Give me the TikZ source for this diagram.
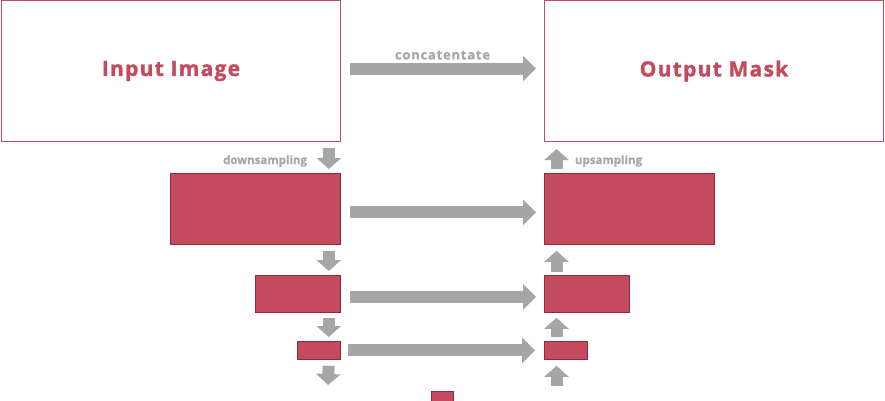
\documentclass[tikz,border=0pt]{standalone}
\usepackage{fontspec}
\setmainfont{Open Sans}
\newfontfamily\headfont{Open Sans}[BoldFeatures={FakeBold=1.5,LetterSpace=6}]
\newfontfamily\notefont{Open Sans}[BoldFeatures={FakeBold=1}]
\usetikzlibrary{arrows.meta,positioning}

\definecolor{maskred}{RGB}{196,75,94}
\definecolor{maskdark}{RGB}{145,40,60}
\definecolor{flowgray}{RGB}{166,166,166}
\definecolor{notegray}{RGB}{172,166,168}

\begin{document}
\begin{tikzpicture}[x=1pt,y=-1pt,
  imgbox/.style={draw=maskred, line width=1pt, fill=white, minimum width=339pt,
    minimum height=141pt, inner sep=0pt, anchor=north west, text=maskred,
    font=\headfont\fontsize{21}{24}\selectfont\bfseries},
  featbox/.style={draw=maskdark, line width=0.8pt, fill=maskred, inner sep=0pt,
    anchor=north west},
  hflow/.style={draw=flowgray, line width=12pt, shorten <=9pt, shorten >=8pt,
    -{Triangle[length=13pt,width=25pt]}},
  vflow/.style={draw=flowgray, line width=12pt, shorten <=6pt, shorten >=4pt,
    -{Triangle[length=11pt,width=24pt]}},
  note/.style={text=notegray, inner sep=0pt, outer sep=0pt,
    font=\notefont\fontsize{11.5}{13}\selectfont\bfseries}]
  \useasboundingbox (0,0) rectangle (885,400);

  % image and mask
  \node[imgbox] (in) at (1,0) {Input Image};
  \node[imgbox] (out) at (544,0) {Output Mask};

  % encoder
  \node[featbox, minimum width=170pt, minimum height=71pt] (d1) at (170,173) {};
  \node[featbox, minimum width=85pt, minimum height=37pt] (d2) at (255,275) {};
  \node[featbox, minimum width=43pt, minimum height=18pt] (d3) at (297,341) {};
  % decoder
  \node[featbox, minimum width=170pt, minimum height=71pt] (u1) at (544,173) {};
  \node[featbox, minimum width=85pt, minimum height=37pt] (u2) at (544,275) {};
  \node[featbox, minimum width=43pt, minimum height=18pt] (u3) at (544,341) {};
  % bottleneck
  \node[featbox, minimum width=22pt, minimum height=18pt] (mid) at (431,391) {};

  \coordinate (downend) at (328,385);
  \coordinate (upstart) at (556.5,386);

  % skip connections
  \draw[hflow] ([yshift=2.5pt]in.east) -- node[note, midway, above=9pt,
    font=\headfont\fontsize{13}{15}\selectfont\bfseries] {concatentate} ([yshift=2.5pt]out.west);
  \draw[hflow] ([yshift=-3.5pt]d1.east) -- ([yshift=-3.5pt]u1.west);
  \draw[hflow] ([yshift=-3pt]d2.east) -- ([yshift=-3pt]u2.west);
  \draw[hflow, shorten <=7pt, shorten >=9pt] (d3.east) -- (u3.west);

  % down
  \draw[vflow] ([xshift=-12pt]in.south east) -- ([xshift=-12pt]d1.north east);
  \draw[vflow] ([xshift=-12pt]d1.south east) -- ([xshift=-12pt]d2.north east);
  \draw[vflow, shorten <=5pt] ([xshift=-12pt]d2.south east) -- ([xshift=-12pt]d3.north east);
  \draw[vflow, shorten >=0pt] ([xshift=-12pt]d3.south east) -- (downend);

  % up
  \draw[vflow, shorten <=4pt, shorten >=7pt] ([xshift=12.5pt]u1.north west) -- ([xshift=12.5pt]out.south west);
  \draw[vflow, shorten <=3pt, shorten >=6pt] ([xshift=12.5pt]u2.north west) -- ([xshift=12.5pt]u1.south west);
  \draw[vflow, shorten <=4pt, shorten >=5pt] ([xshift=12.5pt]u3.north west) -- ([xshift=12.5pt]u2.south west);
  \draw[vflow, shorten <=0pt, shorten >=6pt] (upstart) -- ([xshift=12.5pt]u3.south west);

  \node[note, anchor=base east] (down) at (307,164) {downsampling};
  \node[note, anchor=base west] (up) at (575,164) {upsampling};
\end{tikzpicture}
\end{document}
